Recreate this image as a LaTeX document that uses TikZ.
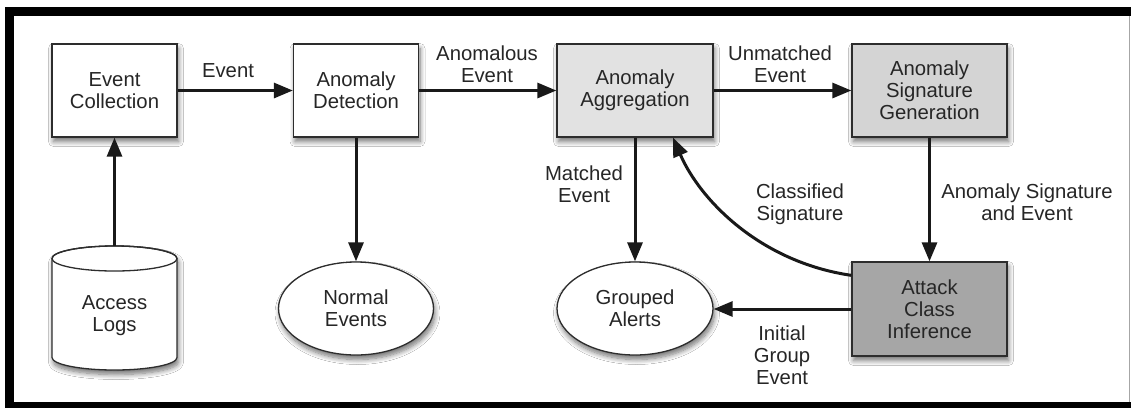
\documentclass[tikz,border=0pt]{standalone}
\usepackage{fontspec}
\setmainfont{Liberation Sans}
\usetikzlibrary{arrows.meta,shapes.geometric,shadows.blur}

\definecolor{aggfill}{RGB}{226,226,226}
\definecolor{sigfill}{RGB}{212,212,212}
\definecolor{acifill}{RGB}{166,166,166}
\definecolor{inkline}{RGB}{45,45,45}

\begin{document}
\begin{tikzpicture}[x=1pt,y=-1pt,
  every node/.style={font=\fontsize{20.3}{22}\selectfont, text=black!85, align=center},
  softshadow/.style={blur shadow={shadow xshift=1.5pt, shadow yshift=-4.5pt,
      shadow blur radius=5pt, shadow blur steps=8, shadow opacity=55}},
  procbox/.style={draw=inkline, line width=1.3pt, fill=white, minimum width=125pt,
      minimum height=93pt, inner sep=0pt, softshadow},
  store/.style={ellipse, draw=inkline, line width=1.3pt, fill=white, minimum width=155pt,
      minimum height=93pt, inner sep=0pt, softshadow},
  flow/.style={line width=3pt, draw=black!90, -{Triangle[length=19pt,width=15pt]}},
  lbl/.style={inner sep=0pt}]

% page and frame
\useasboundingbox (0,0) rectangle (1131,408);
\fill[white] (0,0) rectangle (1131,408);
\fill[black] (5,7) rectangle (1131,16);
\fill[black] (5,7) rectangle (14,408);
\fill[black] (5,402) rectangle (1131,408);
\draw[black!35, line width=1pt] (1129,16) -- (1129,402);

% process boxes
\node[procbox] (ec) at (114.5,90.5) {Event\\Collection};
\node[procbox] (ad) at (356,90.5) {Anomaly\\Detection};
\node[procbox, minimum width=156pt, fill=aggfill] (aa) at (635,90.5) {Anomaly\\Aggregation};
\node[procbox, minimum width=155pt, fill=sigfill] (asg) at (929.5,90.5) {Anomaly\\Signature\\Generation};
\node[procbox, minimum width=155pt, minimum height=94pt, fill=acifill] (aci) at (929.5,309) {Attack\\Class\\Inference};

% data stores
\node[store] (ne) at (356,308.5) {Normal\\Events};
\node[store, minimum width=156pt] (ga) at (635,308.5) {Grouped\\Alerts};

% access log cylinder
\path[softshadow, draw=inkline, line width=1.3pt, fill=white]
  (52,258.5) -- (52,357.5) arc[start angle=180, end angle=0, x radius=62.5, y radius=12.5]
  -- (177,258.5) arc[start angle=0, end angle=-180, x radius=62.5, y radius=12.5] -- cycle;
\draw[inkline, line width=1.3pt] (114.5,258.5) ellipse[x radius=62.5, y radius=12.5];
\node[minimum width=125pt, minimum height=124pt, inner sep=0pt] (logs) at (114.5,308) {};
\node[lbl] (logstext) at (114.5,316) {Access\\Logs};

% flows
\draw[flow] (logs.north) -- (ec.south);
\draw[flow] (ec) -- (ad);
\draw[flow] (ad) -- (aa);
\draw[flow] (aa) -- (asg);
\draw[flow] (ad) -- (ne);
\draw[flow] (aa) -- (ga);
\draw[flow] (asg) -- (aci);
\draw[flow] (aci.west) -- (aci.west -| ga.east);
\draw[flow] ([yshift=-14pt]aci.north west) .. controls (760,262) and (700,200) .. ([xshift=38pt]aa.south);

% flow labels
\node[lbl] (lev) at (228,71) {Event};
\node[lbl] (lanom) at (487,64) {Anomalous\\Event};
\node[lbl] (lunm) at (780,64) {Unmatched\\Event};
\node[lbl] (lmat) at (584,184) {Matched\\Event};
\node[lbl] (lcls) at (800,204) {Classified\\Signature};
\node[lbl] (lsig) at (1027,202) {Anomaly Signature\\and Event};
\node[lbl] (lini) at (782,355) {Initial\\Group\\Event};
\end{tikzpicture}
\end{document}
